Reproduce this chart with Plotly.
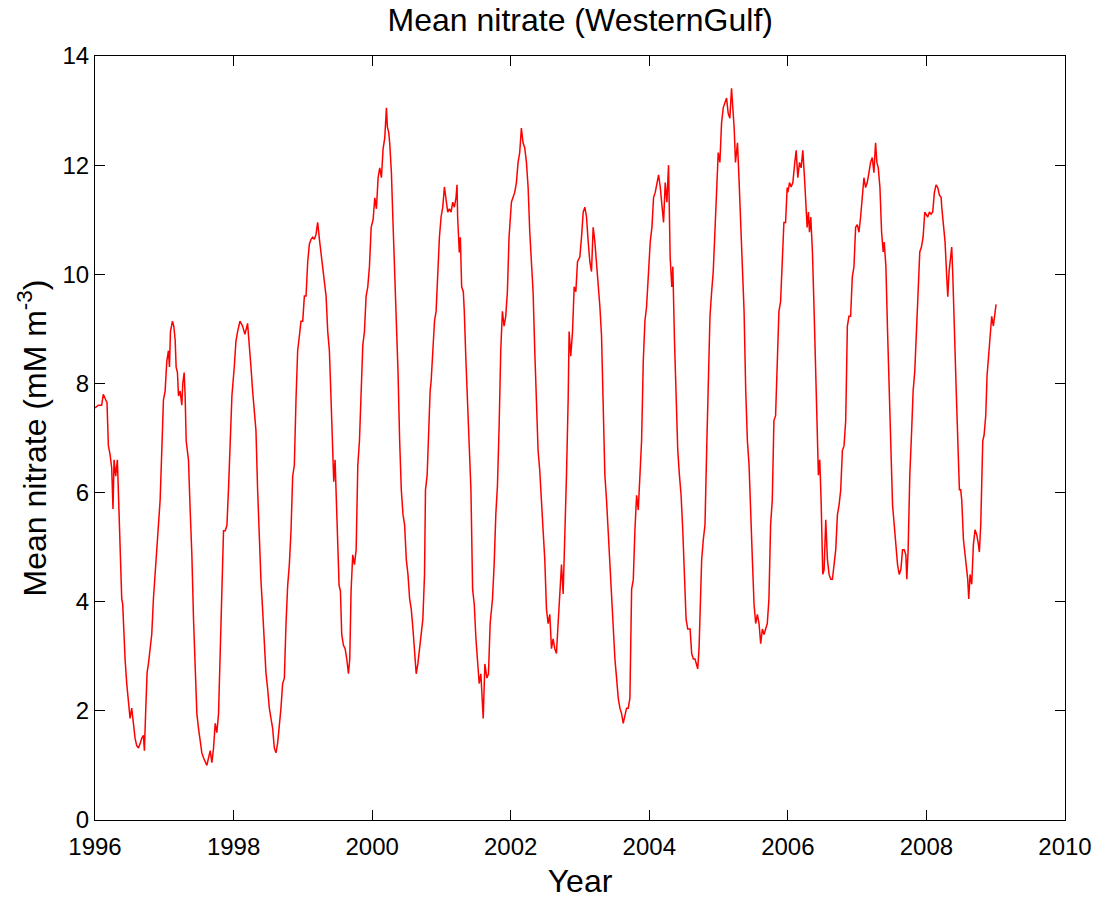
import plotly.graph_objects as go

# Decimal-year offsets (from each window's base year) and mean nitrate values (mM m^-3)
base_1996 = 1996
t_1996 = [0.000,0.048,0.096,0.120,0.154,0.173,0.193,0.217,0.241,0.260,0.275,0.299,0.323,0.337,0.361,0.386,0.400,0.414,0.434,0.458,0.482,0.506,0.530,0.554,0.578,0.602,0.627,0.651,0.675,0.699,0.713,0.733,0.752,0.771,0.795,0.819,0.843,0.858,0.877,0.892,0.916,0.940,0.964,0.988,1.012,1.036,1.060,1.075,1.089,1.118,1.137,1.157,1.171,1.190,1.205,1.229,1.253,1.267,1.287,1.301,1.316,1.335,1.349,1.373,1.398,1.422,1.446,1.470,1.494,1.518,1.542,1.566,1.590,1.614,1.639,1.663,1.687,1.711,1.735,1.759,1.783,1.807,1.831,1.855,1.880,1.904,1.928,1.952,1.976]
n_1996 = [7.55,7.6,7.6,7.8,7.7,7.65,6.86,6.7,6.45,5.7,6.6,6.3,6.6,6.1,5.05,4.05,3.95,3.4,2.95,2.5,2.14,1.86,2.05,1.77,1.5,1.36,1.32,1.4,1.5,1.55,1.27,2.05,2.7,2.86,3.2,3.4,4.05,4.36,4.77,4.95,5.4,5.86,6.77,7.7,7.86,8.4,8.6,8.3,8.95,9.14,9.05,8.8,8.3,8.2,7.77,7.86,7.6,8.0,8.2,7.77,6.95,6.77,6.6,5.7,4.86,3.68,2.7,1.95,1.68,1.41,1.23,1.14,1.05,1.0,1.14,1.27,1.05,1.32,1.77,1.6,1.95,3.2,4.2,5.3,5.3,5.4,6.1,7.1,7.77]

base_1998 = 1998
t_1998 = [0.010,0.034,0.058,0.092,0.130,0.164,0.202,0.227,0.251,0.275,0.299,0.323,0.347,0.371,0.395,0.419,0.443,0.467,0.492,0.516,0.540,0.564,0.588,0.612,0.636,0.660,0.684,0.708,0.733,0.757,0.781,0.805,0.829,0.853,0.877,0.901,0.925,0.949,0.973,0.998,1.022,1.046,1.070,1.094,1.118,1.142,1.166,1.190,1.214,1.239,1.263,1.287,1.311,1.335,1.359,1.383,1.407,1.431,1.446,1.465,1.484,1.504,1.523,1.542,1.561,1.586,1.610,1.634,1.658,1.677,1.696,1.720,1.745,1.769,1.793,1.817,1.841,1.865,1.889,1.913,1.937,1.961,1.986]
n_1998 = [8.3,8.77,8.95,9.14,9.05,8.9,9.1,8.6,8.3,7.86,7.5,7.14,6.05,5.05,4.4,3.86,3.3,2.7,2.4,2.05,1.86,1.68,1.32,1.23,1.41,1.68,2.05,2.5,2.6,3.6,4.3,4.68,5.3,6.3,6.5,7.7,8.6,8.86,9.14,9.14,9.6,9.6,10.23,10.55,10.64,10.68,10.64,10.73,10.95,10.64,10.4,10.14,9.86,9.6,8.95,8.6,7.7,6.95,6.2,6.6,5.86,4.95,4.3,4.2,3.4,3.2,3.14,2.95,2.68,2.95,4.2,4.86,4.68,4.95,6.5,6.95,7.86,8.7,8.95,9.6,9.77,10.14,10.86]

base_2000 = 2000
t_2000 = [0.014,0.038,0.062,0.086,0.110,0.134,0.158,0.182,0.206,0.220,0.239,0.254,0.278,0.301,0.325,0.349,0.373,0.397,0.421,0.445,0.469,0.493,0.517,0.541,0.565,0.589,0.612,0.636,0.660,0.684,0.708,0.732,0.756,0.770,0.794,0.813,0.837,0.852,0.876,0.900,0.923,0.947,0.971,0.995,1.019,1.043,1.067,1.091,1.115,1.139,1.163,1.187,1.211,1.225,1.234,1.258,1.273,1.292,1.316,1.330,1.354,1.378,1.402,1.426,1.450,1.474,1.498,1.522,1.545,1.569,1.584,1.603,1.627,1.656,1.679,1.703,1.737,1.761,1.785,1.809,1.833,1.856,1.880,1.904,1.928,1.952,1.976]
n_2000 = [11.0,11.4,11.2,11.77,11.95,11.77,12.3,12.5,13.05,12.7,12.6,12.4,11.86,10.95,10.14,9.32,8.23,6.95,6.05,5.6,5.4,4.77,4.5,4.05,3.86,3.5,3.05,2.68,2.86,3.14,3.32,3.68,4.5,6.05,6.32,7.14,7.86,8.05,8.68,9.14,9.32,10.14,10.68,11.05,11.23,11.6,11.41,11.14,11.2,11.14,11.32,11.23,11.41,11.64,11.05,10.4,10.68,9.77,9.68,9.32,8.4,7.7,6.77,6.05,4.23,3.95,3.32,2.95,2.5,2.68,2.32,1.86,2.86,2.6,2.68,3.6,4.05,4.68,5.6,6.14,7.23,8.6,9.32,9.05,9.23,9.68,10.68]

base_2002 = 2002
t_2002 = [0.010,0.034,0.058,0.082,0.106,0.130,0.154,0.178,0.202,0.227,0.251,0.275,0.299,0.323,0.347,0.371,0.395,0.419,0.443,0.467,0.492,0.516,0.540,0.564,0.588,0.612,0.636,0.660,0.684,0.708,0.733,0.757,0.781,0.805,0.829,0.843,0.867,0.892,0.916,0.940,0.964,0.998,1.022,1.046,1.070,1.094,1.118,1.142,1.166,1.190,1.214,1.239,1.263,1.287,1.311,1.335,1.359,1.383,1.407,1.431,1.455,1.480,1.504,1.528,1.552,1.576,1.600,1.624,1.648,1.672,1.696,1.720,1.745,1.769,1.793,1.817,1.841,1.865,1.889,1.913,1.937,1.961,1.986]
n_2002 = [11.32,11.41,11.5,11.68,12.05,12.23,12.68,12.41,12.32,12.05,11.6,10.77,10.23,9.68,8.6,7.5,6.77,6.41,5.77,5.32,4.77,3.86,3.6,3.77,3.14,3.32,3.14,3.05,3.6,4.05,4.68,4.14,5.14,6.32,7.7,8.95,8.5,8.95,9.77,9.68,10.23,10.32,10.68,11.14,11.23,11.05,10.6,10.23,10.05,10.86,10.6,10.23,9.77,9.41,8.86,7.5,6.32,5.86,5.23,4.77,4.05,3.5,2.95,2.6,2.23,2.05,1.95,1.77,1.95,2.05,2.05,2.23,4.23,4.4,5.32,5.95,5.68,6.32,6.95,8.4,9.14,9.41,9.95]

base_2004 = 2004
t_2004 = [0.014,0.038,0.062,0.086,0.110,0.134,0.158,0.182,0.206,0.230,0.254,0.278,0.301,0.325,0.340,0.364,0.388,0.411,0.435,0.459,0.483,0.507,0.531,0.555,0.589,0.612,0.636,0.660,0.684,0.699,0.718,0.737,0.756,0.780,0.804,0.828,0.852,0.876,0.900,0.923,0.947,0.971,0.995,1.019,1.043,1.067,1.091,1.115,1.139,1.163,1.187,1.201,1.225,1.244,1.273,1.297,1.321,1.344,1.368,1.392,1.416,1.440,1.464,1.488,1.512,1.536,1.560,1.584,1.608,1.632,1.656,1.679,1.703,1.727,1.751,1.775,1.799,1.823,1.847,1.871,1.895,1.919,1.943,1.967,1.990]
n_2004 = [10.6,10.86,11.41,11.5,11.68,11.82,11.6,11.32,10.95,11.68,11.32,12.0,10.32,9.77,10.14,8.77,7.7,6.77,6.32,5.95,5.32,4.5,3.68,3.5,3.5,3.05,2.95,2.95,2.86,2.77,3.14,4.05,4.77,5.14,5.41,6.77,7.86,9.23,9.68,10.05,10.77,11.59,12.23,12.05,12.77,13.05,13.14,13.23,12.95,12.86,13.41,13.14,12.68,12.05,12.41,11.68,10.86,10.05,9.32,7.86,6.95,6.5,5.41,4.77,3.95,3.6,3.77,3.6,3.23,3.5,3.4,3.5,3.6,4.05,5.41,5.86,7.32,7.41,8.6,9.32,9.5,10.14,10.95,10.95,11.59]

base_2006 = 2006
t_2006 = [0.000,0.024,0.048,0.072,0.096,0.120,0.144,0.168,0.192,0.216,0.240,0.264,0.278,0.297,0.312,0.331,0.355,0.379,0.403,0.427,0.441,0.460,0.480,0.504,0.523,0.547,0.571,0.595,0.619,0.643,0.667,0.691,0.715,0.739,0.763,0.787,0.811,0.835,0.859,0.882,0.906,0.930,0.954,0.978,1.002,1.026,1.050,1.074,1.098,1.122,1.146,1.170,1.194,1.218,1.242,1.266,1.285,1.305,1.329,1.353,1.376,1.391,1.415,1.439,1.463,1.487,1.511,1.535,1.559,1.583,1.607,1.631,1.655,1.679,1.703,1.717,1.736,1.760,1.784,1.808,1.832,1.856,1.880,1.904,1.928,1.952,1.976]
n_2006 = [11.5,11.68,11.6,11.68,12.0,12.27,11.77,12.05,11.95,12.27,11.77,11.32,10.86,11.14,10.77,11.05,10.4,9.32,8.23,7.14,6.32,6.6,5.86,4.5,4.59,5.5,4.77,4.5,4.41,4.41,4.68,4.95,5.59,5.77,6.05,6.77,6.86,7.32,9.05,9.23,9.23,9.95,10.14,10.86,10.91,10.77,11.05,11.5,11.77,11.59,11.68,11.86,12.05,12.14,11.86,12.41,12.05,11.95,11.59,10.77,10.41,10.59,10.14,8.95,7.86,6.6,5.77,5.41,5.05,4.68,4.5,4.59,4.95,4.95,4.86,4.41,4.95,6.32,7.05,7.86,8.23,9.05,9.86,10.41,10.5,10.68,11.14]

base_2008 = 2008
t_2008 = [0.000,0.019,0.043,0.067,0.091,0.115,0.139,0.163,0.188,0.212,0.221,0.245,0.269,0.293,0.308,0.327,0.351,0.365,0.380,0.394,0.413,0.428,0.442,0.462,0.476,0.495,0.510,0.534,0.558,0.582,0.596,0.611,0.630,0.654,0.678,0.702,0.726,0.750,0.764,0.784,0.798,0.813,0.832,0.856,0.875,0.894,0.918,0.942,0.966,0.990,1.005]
n_2008 = [11.1,11.05,11.14,11.1,11.14,11.5,11.64,11.59,11.45,11.41,11.23,10.95,10.59,9.95,9.59,10.05,10.41,10.5,10.0,9.14,8.6,7.95,7.23,6.59,6.05,6.05,5.86,5.14,4.86,4.59,4.41,4.05,4.5,4.32,5.05,5.32,5.23,5.05,4.91,5.41,6.23,6.95,7.05,7.41,8.14,8.41,8.77,9.23,9.05,9.32,9.45]

x_ticks = [1996, 1998, 2000, 2002, 2004, 2006, 2008, 2010]
y_ticks = [0, 2, 4, 6, 8, 10, 12, 14]

windows = [
    (base_1996, t_1996, n_1996),
    (base_1998, t_1998, n_1998),
    (base_2000, t_2000, n_2000),
    (base_2002, t_2002, n_2002),
    (base_2004, t_2004, n_2004),
    (base_2006, t_2006, n_2006),
    (base_2008, t_2008, n_2008),
]
years, nitrate = [], []
for base, ts, vs in windows:
    for t, v in zip(ts, vs):
        years.append(base + t)
        nitrate.append(v)

FONT = "Liberation Sans, Arial, Helvetica, sans-serif"

fig = go.Figure()
fig.add_trace(go.Scatter(x=years, y=nitrate, mode="lines",
                         line=dict(color="#ff0000", width=1.5),
                         showlegend=False, hoverinfo="skip"))

axis_common = dict(
    showline=True, linecolor="#000000", linewidth=1, mirror="ticks",
    ticks="inside", ticklen=10, tickwidth=1, tickcolor="#000000",
    showgrid=False, zeroline=False,
    tickfont=dict(family=FONT, size=24, color="#000000"),
)

fig.update_layout(
    width=1099, height=899,
    paper_bgcolor="white", plot_bgcolor="white",
    margin=dict(l=95, r=34, t=56, b=79, autoexpand=False),
    title=dict(text="Mean nitrate (WesternGulf)", x=0.528, xanchor="center",
               y=0.978, yanchor="middle",
               font=dict(family=FONT, size=32, color="#000000")),
    xaxis=dict(range=[1996, 2010], tickvals=x_ticks, ticktext=[str(v) for v in x_ticks],
               title=dict(text="Year", font=dict(family=FONT, size=32, color="#000000"), standoff=12),
               ticklabelstandoff=5,
               **axis_common),
    yaxis=dict(range=[0, 14], tickvals=y_ticks, ticktext=[str(v) for v in y_ticks],
               title=dict(text="Mean nitrate (mM m<sup>-3</sup>)",
                          font=dict(family=FONT, size=32, color="#000000"), standoff=6),
               ticklabelstandoff=0,
               **axis_common),
)

fig.write_html("out.html",
               config={"displayModeBar": False},
               post_script="document.body.style.margin='0px';document.body.style.overflow='hidden';")
